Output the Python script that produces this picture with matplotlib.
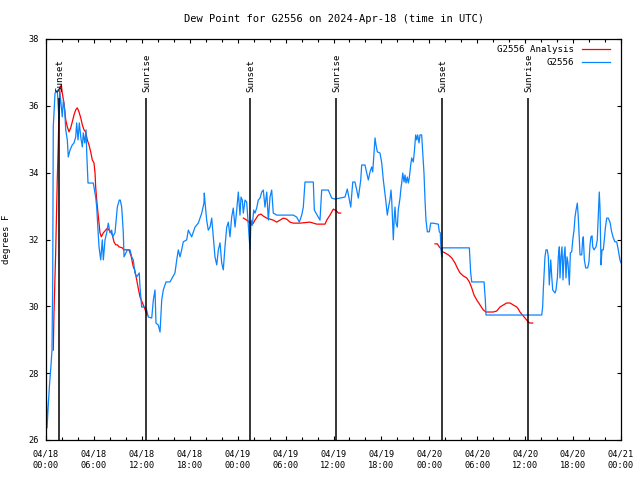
import matplotlib
matplotlib.use('Agg')
import matplotlib.pyplot as plt
from matplotlib.lines import Line2D

# hours after 04/18 00:00 UTC, dew point in degrees F
blue_obs = [
    (0.06, 27.20), (0.13, 26.36), (0.25, 26.90), (0.44, 27.65), (0.63, 28.25), (0.75, 28.69),
    (0.84, 30.79), (0.91, 35.37), (1.13, 36.38), (1.41, 36.47), (1.63, 35.58), (1.75, 36.38),
    (2.04, 35.67), (2.17, 36.17), (2.34, 35.88), (2.47, 35.28), (2.67, 34.98), (2.79, 34.47),
    (3.01, 34.68), (3.29, 34.83), (3.51, 34.89), (3.72, 35.07), (3.84, 35.49), (4.01, 34.98),
    (4.17, 35.49), (4.35, 35.07), (4.55, 34.77), (4.67, 35.19), (4.85, 34.89), (5.01, 35.28),
    (5.10, 34.59), (5.26, 33.69), (5.92, 33.69), (6.22, 33.27), (6.35, 32.97), (6.51, 32.28),
    (6.64, 31.78), (6.85, 31.39), (7.05, 31.99), (7.18, 31.39), (7.39, 31.99), (7.60, 32.20),
    (7.80, 32.49), (8.01, 32.20), (8.23, 32.28), (8.35, 32.08), (8.64, 32.20), (8.93, 32.97),
    (9.18, 33.18), (9.30, 33.18), (9.48, 32.97), (9.68, 32.20), (9.77, 31.48), (10.18, 31.69),
    (10.52, 31.69), (10.73, 31.48), (10.93, 31.39), (11.14, 31.00), (11.36, 30.88), (11.68, 31.00),
    (11.77, 30.58), (11.98, 29.98), (12.40, 29.98), (12.61, 29.89), (12.81, 29.68), (13.24, 29.65),
    (13.44, 30.19), (13.65, 30.49), (13.77, 29.50), (14.06, 29.44), (14.28, 29.23), (14.49, 30.19),
    (14.69, 30.49), (15.03, 30.73), (15.53, 30.73), (15.87, 30.88), (16.15, 31.00), (16.37, 31.39),
    (16.57, 31.69), (16.78, 31.48), (16.99, 31.69), (17.19, 31.93), (17.62, 31.99), (17.82, 32.28),
    (18.24, 32.08), (18.66, 32.37), (19.07, 32.49), (19.50, 32.79), (19.78, 33.09), (19.82, 33.39),
    (19.91, 33.12), (20.12, 32.58), (20.32, 32.28), (20.54, 32.37), (20.75, 32.64), (20.95, 32.08),
    (21.16, 31.48), (21.38, 31.24), (21.58, 31.69), (21.79, 31.90), (22.00, 31.30), (22.20, 31.09),
    (22.41, 31.78), (22.63, 32.37), (22.83, 32.52), (23.04, 32.08), (23.25, 32.67), (23.45, 32.94),
    (23.67, 32.37), (23.88, 32.88), (24.08, 33.42), (24.29, 32.73), (24.42, 33.27), (24.58, 33.18),
    (24.71, 32.79), (24.92, 33.18), (25.13, 33.12), (25.26, 32.67), (25.42, 32.08), (25.55, 31.69),
    (25.67, 32.58), (25.83, 32.43), (26.01, 32.88), (26.17, 32.79), (26.38, 32.94), (26.58, 33.18),
    (26.80, 33.24), (27.01, 33.42), (27.21, 33.48), (27.42, 32.97), (27.64, 33.42), (27.84, 32.58),
    (28.05, 33.27), (28.26, 33.48), (28.46, 32.79), (28.89, 32.73), (30.55, 32.73), (30.97, 32.73),
    (31.39, 32.67), (31.72, 32.52), (32.02, 32.73), (32.22, 32.97), (32.43, 33.72), (33.47, 33.72),
    (33.60, 32.88), (34.31, 32.58), (34.52, 33.48), (35.35, 33.48), (35.77, 33.24), (36.19, 33.21),
    (36.81, 33.24), (37.44, 33.27), (37.73, 33.51), (38.16, 32.97), (38.41, 33.72), (38.69, 33.72),
    (38.91, 33.48), (39.11, 33.24), (39.41, 33.78), (39.53, 34.23), (39.94, 34.23), (40.16, 33.99),
    (40.36, 33.78), (40.57, 34.02), (40.78, 34.17), (40.91, 34.02), (41.07, 34.59), (41.20, 35.04),
    (41.32, 34.83), (41.49, 34.62), (41.82, 34.59), (42.04, 34.29), (42.24, 33.78), (42.54, 33.18),
    (42.74, 32.73), (42.87, 32.94), (43.08, 33.21), (43.20, 33.48), (43.29, 33.18), (43.41, 32.43),
    (43.49, 31.99), (43.61, 32.67), (43.70, 32.97), (43.83, 32.49), (43.99, 32.37), (44.11, 32.88),
    (44.33, 33.24), (44.45, 33.54), (44.54, 33.69), (44.67, 33.99), (44.83, 33.72), (44.95, 33.93),
    (45.08, 33.69), (45.24, 33.87), (45.37, 33.69), (45.49, 33.84), (45.67, 34.23), (45.79, 34.44),
    (45.99, 34.32), (46.12, 34.62), (46.29, 35.13), (46.42, 34.98), (46.54, 35.13), (46.71, 34.89),
    (46.83, 35.13), (47.04, 35.13), (47.17, 34.62), (47.33, 33.99), (47.46, 33.18), (47.58, 32.58),
    (47.75, 32.23), (48.00, 32.23), (48.17, 32.49), (48.42, 32.49), (49.12, 32.46), (49.25, 32.23),
    (49.37, 32.20), (49.46, 31.69), (49.55, 31.48), (49.62, 31.75), (49.75, 31.75), (53.01, 31.75),
    (53.18, 31.00), (53.31, 30.73), (54.85, 30.73), (55.01, 30.19), (55.10, 29.74), (62.07, 29.74),
    (62.19, 29.98), (62.27, 30.49), (62.36, 30.94), (62.48, 31.48), (62.61, 31.69), (62.77, 31.69),
    (62.90, 31.48), (63.02, 30.64), (63.20, 31.39), (63.33, 30.88), (63.45, 30.49), (63.74, 30.40),
    (63.86, 30.49), (64.03, 30.85), (64.15, 31.48), (64.28, 31.78), (64.36, 30.85), (64.49, 31.48),
    (64.61, 31.78), (64.74, 30.79), (64.86, 31.48), (64.99, 31.78), (65.11, 30.85), (65.24, 31.48),
    (65.36, 31.30), (65.53, 30.64), (65.66, 31.60), (65.83, 31.63), (65.96, 31.99), (66.12, 32.28),
    (66.24, 32.67), (66.37, 32.88), (66.53, 33.09), (66.65, 32.67), (66.78, 31.99), (66.87, 31.54),
    (67.08, 31.54), (67.20, 31.99), (67.28, 32.08), (67.41, 31.39), (67.58, 31.15), (67.83, 31.15),
    (67.99, 31.33), (68.12, 31.84), (68.24, 32.08), (68.37, 32.11), (68.46, 31.78), (68.62, 31.69),
    (68.87, 31.78), (69.03, 31.99), (69.21, 33.03), (69.28, 33.42), (69.37, 32.94), (69.50, 31.24),
    (69.62, 31.69), (69.78, 31.69), (69.91, 31.99), (70.04, 32.34), (70.21, 32.64), (70.41, 32.64),
    (70.62, 32.52), (70.83, 32.23), (71.03, 32.05), (71.24, 31.93), (71.46, 31.93), (71.66, 31.69),
    (71.87, 31.39), (72.00, 31.30),
]

# analysis series, three separate runs
analysis_day1 = [
    (0.91, 28.69), (1.00, 29.80), (1.21, 31.60), (1.41, 33.78), (1.54, 34.89), (1.63, 35.88),
    (1.75, 36.56), (1.92, 36.62), (2.04, 36.38), (2.25, 36.08), (2.47, 35.58), (2.67, 35.37),
    (2.88, 35.22), (3.09, 35.34), (3.29, 35.52), (3.51, 35.73), (3.72, 35.88), (3.92, 35.94),
    (4.13, 35.82), (4.35, 35.64), (4.55, 35.43), (4.76, 35.28), (4.97, 35.22), (5.17, 34.98),
    (5.38, 34.83), (5.60, 34.62), (5.80, 34.38), (6.01, 34.29), (6.14, 33.99), (6.22, 33.57),
    (6.35, 33.18), (6.51, 32.79), (6.64, 32.49), (6.76, 32.20), (6.92, 32.08), (7.18, 32.20),
    (7.48, 32.28), (7.68, 32.34), (7.89, 32.28), (8.10, 32.23), (8.30, 32.14), (8.51, 31.93),
    (8.73, 31.84), (8.93, 31.84), (9.14, 31.78), (9.55, 31.75), (9.77, 31.69), (10.39, 31.69),
    (10.68, 31.48), (10.93, 31.18), (11.11, 31.09), (11.36, 30.79), (11.52, 30.58), (11.77, 30.28),
    (11.93, 30.19), (12.18, 30.04), (12.43, 29.89), (12.69, 29.74),
]
analysis_day2 = [
    (24.71, 32.64), (25.13, 32.58), (25.46, 32.52), (25.76, 32.43), (25.96, 32.49), (26.17, 32.58),
    (26.58, 32.73), (26.92, 32.76), (27.21, 32.70), (27.64, 32.64), (28.05, 32.61), (28.46, 32.58),
    (28.89, 32.52), (29.30, 32.58), (29.72, 32.64), (30.14, 32.61), (30.55, 32.52), (30.97, 32.49),
    (31.81, 32.49), (33.06, 32.52), (33.47, 32.49), (33.90, 32.46), (34.94, 32.46), (35.15, 32.58),
    (35.56, 32.73), (35.98, 32.91), (36.19, 32.88), (36.40, 32.85), (36.60, 32.79), (36.90, 32.79),
]
analysis_day3 = [
    (48.71, 31.87), (49.00, 31.87), (49.25, 31.78), (49.46, 31.72), (49.67, 31.63), (49.96, 31.60),
    (50.38, 31.54), (50.80, 31.45), (51.21, 31.30), (51.50, 31.15), (51.84, 31.00), (52.25, 30.91),
    (52.68, 30.85), (53.01, 30.73), (53.31, 30.55), (53.59, 30.34), (53.94, 30.19), (54.35, 30.04),
    (54.76, 29.89), (55.10, 29.83), (55.60, 29.83), (56.01, 29.83), (56.44, 29.86), (56.85, 29.98),
    (57.26, 30.04), (57.69, 30.10), (58.10, 30.10), (58.52, 30.04), (58.94, 29.98), (59.14, 29.92),
    (59.35, 29.83), (59.56, 29.77), (59.77, 29.71), (59.98, 29.65), (60.19, 29.59), (60.39, 29.53),
    (60.61, 29.50), (60.94, 29.50),
]

sun_hours = [1.63, 12.46, 25.54, 36.31, 49.59, 60.36]
sun_labels = ['Sunset', 'Sunrise', 'Sunset', 'Sunrise', 'Sunset', 'Sunrise']

xtick_hours = [0, 6, 12, 18, 24, 30, 36, 42, 48, 54, 60, 66, 72]
xtick_labels = ['04/18\n00:00', '04/18\n06:00', '04/18\n12:00', '04/18\n18:00',
                '04/19\n00:00', '04/19\n06:00', '04/19\n12:00', '04/19\n18:00',
                '04/20\n00:00', '04/20\n06:00', '04/20\n12:00', '04/20\n18:00',
                '04/21\n00:00']
ytick_vals = [26, 28, 30, 32, 34, 36, 38]

BLUE = '#0a84ff'
RED = '#ff0000'

plt.rcParams['font.family'] = ['DejaVu Sans Mono']
plt.rcParams['font.size'] = 6.2

fig = plt.figure(figsize=(6.4, 4.8), dpi=100)
ax = fig.add_axes([46 / 640, 40 / 480, 575 / 640, 401 / 480])

for seg in (analysis_day1, analysis_day2, analysis_day3):
    hrs, vals = zip(*seg)
    ax.plot(hrs, vals, color=RED, lw=0.9)

hrs, vals = zip(*blue_obs)
ax.plot(hrs, vals, color=BLUE, lw=0.9)

for h, lab in zip(sun_hours, sun_labels):
    ax.vlines(h, 26, 36.22, color='black', lw=1.1)
    ax.text(h + 0.15, 36.42, lab, rotation=90, ha='center', va='bottom', fontsize=6.6)

ax.set_xlim(0, 72)
ax.set_ylim(26, 38)
ax.set_xticks(xtick_hours)
ax.set_xticklabels(xtick_labels, linespacing=1.35)
ax.set_xticks(range(0, 73, 2), minor=True)
ax.set_yticks(ytick_vals)
ax.tick_params(which='both', direction='in', top=True, right=True, width=0.8)
ax.tick_params(which='major', length=3.2)
ax.tick_params(which='minor', length=2.0)
ax.tick_params(axis='x', pad=7)
ax.tick_params(axis='y', pad=5)
for sp in ax.spines.values():
    sp.set_linewidth(0.9)

ax.set_title('Dew Point for G2556 on 2024-Apr-18 (time in UTC)', pad=12)
ax.set_ylabel('degrees F', fontsize=6.6)
ax.yaxis.set_label_coords(-0.061, 0.5)

# key, top right, text right-justified like gnuplot
key_rows = [('G2556 Analysis', RED, 0.975), ('G2556', BLUE, 0.9426)]
for txt, col, yy in key_rows:
    ax.text(0.918, yy, txt, transform=ax.transAxes, ha='right', va='center', fontsize=6.6)
    ax.add_line(Line2D([0.932, 0.981], [yy, yy], transform=ax.transAxes, color=col, lw=0.9))

fig.savefig('out.png', dpi=100)
